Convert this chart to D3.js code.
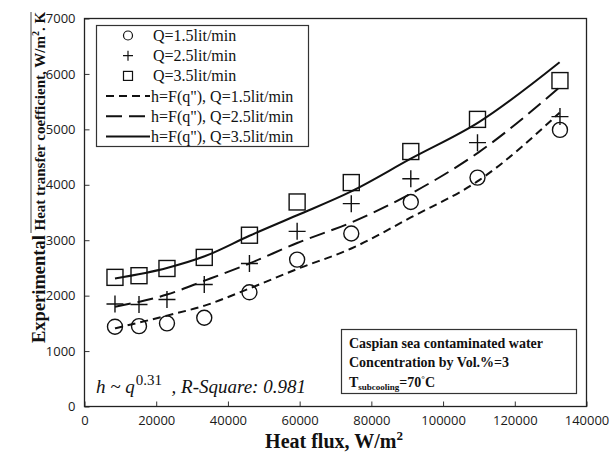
<!DOCTYPE html>
<html>
<head>
<meta charset="utf-8">
<script src="https://cdn.jsdelivr.net/npm/d3@7"></script>
<style>
  body { margin: 0; background: #fff; }
  svg { display: block; }
</style>
</head>
<body>
<svg id="chart" width="616" height="454"></svg>
<script>
// experimental points (heat flux, W/m2)
const heatFlux = [8500, 15200, 23000, 33400, 46000, 59300, 74400, 91000, 109600, 132600];
const hQ15 = [1440, 1450, 1500, 1600, 2060, 2650, 3120, 3690, 4130, 4990];
const hQ25 = [1850, 1840, 1930, 2200, 2580, 3160, 3660, 4110, 4760, 5230];
const hQ35 = [2330, 2360, 2490, 2690, 3090, 3690, 4040, 4600, 5180, 5880];

// fitted curves h=F(q")
const fitFlux = [8500, 23000, 33500, 46000, 59300, 74400, 91000, 110000, 132500];
const fitQ15 = [1410, 1640, 1820, 2130, 2480, 2850, 3410, 4080, 5300];
const fitQ25 = [1800, 2020, 2270, 2580, 2950, 3320, 3840, 4590, 5760];
const fitQ35 = [2310, 2500, 2710, 3080, 3450, 3880, 4470, 5130, 6210];

const xTicks = [0, 20000, 40000, 60000, 80000, 100000, 120000, 140000];
const yTicks = [0, 1000, 2000, 3000, 4000, 5000, 6000, 7000];

const legendLabels = ["Q=1.5lit/min", "Q=2.5lit/min", "Q=3.5lit/min",
  "h=F(q\"), Q=1.5lit/min", "h=F(q\"), Q=2.5lit/min", "h=F(q\"), Q=3.5lit/min"];

const svg = d3.select("#chart");
const serif = "'Liberation Serif', 'Times New Roman', serif";
const ink = "#111";

const plotLeft = 84.5, plotRight = 586.5, plotTop = 18.5, plotBottom = 406.5;
const x = d3.scaleLinear().domain([0, 140000]).range([plotLeft, plotRight]);
const y = d3.scaleLinear().domain([0, 7000]).range([plotBottom, plotTop]);

// axes with inward ticks
const xAxis = svg.append("g")
  .attr("transform", `translate(0,${plotBottom})`)
  .call(d3.axisBottom(x).tickValues(xTicks).tickFormat(d3.format("d"))
    .tickSizeInner(-5).tickSizeOuter(0).tickPadding(9));
const yAxis = svg.append("g")
  .attr("transform", `translate(${plotLeft},0)`)
  .call(d3.axisLeft(y).tickValues(yTicks).tickFormat(d3.format("d"))
    .tickSizeInner(-5).tickSizeOuter(0).tickPadding(9));
[xAxis, yAxis].forEach(g => {
  g.select(".domain").remove();
  g.selectAll(".tick line").attr("stroke", "#333").attr("stroke-width", 1);
  g.selectAll(".tick text")
    .attr("font-family", "'Open Sans', sans-serif")
    .attr("font-size", 13)
    .attr("fill", "#1a1a1a");
});

// plot frame
svg.append("rect")
  .attr("x", plotLeft).attr("y", plotTop)
  .attr("width", plotRight - plotLeft).attr("height", plotBottom - plotTop)
  .attr("fill", "none").attr("stroke", "#222").attr("stroke-width", 1.3);

// fit curves
const line = d3.line().x(d => x(d[0])).y(d => y(d[1])).curve(d3.curveMonotoneX);
const fits = [
  { vals: fitQ15, dash: "8,5" },
  { vals: fitQ25, dash: "16,7" },
  { vals: fitQ35, dash: null }
];
fits.forEach(f => {
  svg.append("path")
    .datum(fitFlux.map((q, i) => [q, f.vals[i]]))
    .attr("d", line)
    .attr("fill", "none")
    .attr("stroke", ink)
    .attr("stroke-width", 2)
    .attr("stroke-dasharray", f.dash);
});

// markers
function drawMarker(g, kind, cx, cy, s) {
  if (kind === "circle") {
    g.append("circle").attr("cx", cx).attr("cy", cy).attr("r", s / 2);
  } else if (kind === "square") {
    g.append("rect").attr("x", cx - s / 2).attr("y", cy - s / 2)
      .attr("width", s).attr("height", s);
  } else {
    g.append("path").attr("d", `M${cx - s / 2},${cy}H${cx + s / 2}M${cx},${cy - s / 2}V${cy + s / 2}`);
  }
}
const markers = svg.append("g").attr("fill", "none").attr("stroke", ink).attr("stroke-width", 1.4);
const series = [
  { vals: hQ15, kind: "circle", size: 15 },
  { vals: hQ25, kind: "plus", size: 17 },
  { vals: hQ35, kind: "square", size: 16 }
];
series.forEach(s => {
  s.vals.forEach((v, i) => drawMarker(markers, s.kind, x(heatFlux[i]), y(v), s.size));
});

// legend
const legend = svg.append("g");
legend.append("rect")
  .attr("x", 96.5).attr("y", 25.5).attr("width", 212).attr("height", 121)
  .attr("fill", "#fff").attr("stroke", "#333").attr("stroke-width", 1.2);
const legMarks = legend.append("g").attr("fill", "none").attr("stroke", ink).attr("stroke-width", 1.2);
legendLabels.forEach((lab, i) => {
  const cy = 35.5 + i * 20.2;
  if (i < 3) {
    drawMarker(legMarks, series[i].kind, 128, cy, i === 1 ? 10 : 9);
    legend.append("text").attr("x", 153).attr("y", cy + 5.5)
      .attr("font-family", serif).attr("font-size", 16).attr("fill", ink).text(lab);
  } else {
    legend.append("line").attr("x1", 106).attr("x2", 150).attr("y1", cy).attr("y2", cy)
      .attr("stroke", ink).attr("stroke-width", 2).attr("stroke-dasharray", fits[i - 3].dash);
    legend.append("text").attr("x", 151).attr("y", cy + 5.5)
      .attr("font-family", serif).attr("font-size", 16).attr("fill", ink).text(lab);
  }
});

// info box
svg.append("rect")
  .attr("x", 341.5).attr("y", 329.5).attr("width", 235).attr("height", 64)
  .attr("fill", "#fff").attr("stroke", "#333").attr("stroke-width", 1.2);
const info = svg.append("text").attr("font-family", serif).attr("font-weight", "bold")
  .attr("font-size", 14).attr("fill", ink);
info.append("tspan").attr("x", 349).attr("y", 348).text("Caspian sea contaminated water");
info.append("tspan").attr("x", 349).attr("y", 367).text("Concentration by Vol.%=3");
info.append("tspan").attr("x", 349).attr("y", 387).text("T");
info.append("tspan").attr("font-size", 9).attr("dy", 3).text("subcooling");
info.append("tspan").attr("dy", -3).text("=70");
info.append("tspan").attr("font-size", 9).attr("dy", -5).text("°");
info.append("tspan").attr("dy", 5).text("C");

// correlation note
const note = svg.append("text").attr("font-family", serif).attr("font-size", 19)
  .attr("fill", ink).attr("x", 96).attr("y", 393);
note.append("tspan").attr("font-style", "italic").attr("xml:space", "preserve").text("h ~ q");
note.append("tspan").attr("font-size", 15).attr("dy", -8).attr("dx", 1).text("0.31");
note.append("tspan").attr("dy", 8).attr("font-style", "italic").attr("xml:space", "preserve").text("  , R-Square: 0.981");

// axis titles
svg.append("text")
  .attr("x", 334).attr("y", 448)
  .attr("text-anchor", "middle")
  .attr("font-family", serif).attr("font-weight", "bold").attr("font-size", 20)
  .attr("fill", ink)
  .html("Heat flux, W/m<tspan font-size='13' dy='-8'>2</tspan>");

const yTitle = svg.append("text")
  .attr("transform", "translate(45,343) rotate(-90)")
  .attr("font-family", serif).attr("font-weight", "bold").attr("fill", ink);
yTitle.append("tspan").attr("font-size", 18.5).text("Experimental ");
yTitle.append("tspan").attr("font-size", 15).text("Heat transfer coefficient, W/m");
yTitle.append("tspan").attr("font-size", 10).attr("dy", -6).text("2");
yTitle.append("tspan").attr("font-size", 15).attr("dy", 6).text(". K");
svg.append("line")
  .attr("x1", 31).attr("x2", 31).attr("y1", 12).attr("y2", 233)
  .attr("stroke", "#444").attr("stroke-width", 1);
</script>
</body>
</html>
